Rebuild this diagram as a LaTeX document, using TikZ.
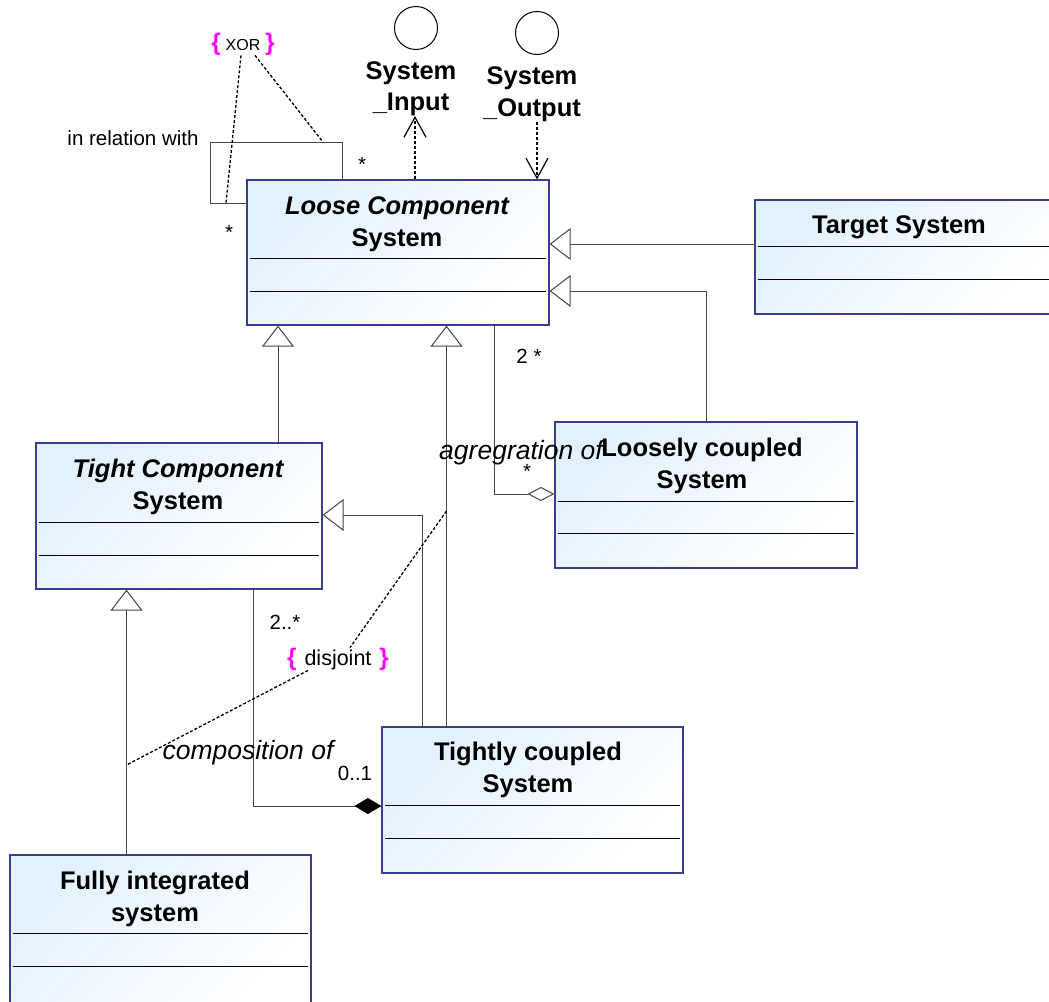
\documentclass[tikz,border=0pt]{standalone}
\usepackage{fontspec}
\setmainfont{Liberation Sans}
\usepackage{tikz}
\usetikzlibrary{arrows.meta}

\definecolor{class-border}{RGB}{60,60,140}
\definecolor{class-fill}{RGB}{226,241,253}
\definecolor{link-grey}{RGB}{70,70,70}
\definecolor{brace-pink}{RGB}{255,0,255}

\begin{document}
\begin{tikzpicture}[x=1pt, y=-1pt,
		class-box/.style={draw=class-border, line width=1.2pt, rectangle, top color=class-fill, bottom color=white, shading angle=45, inner sep=0pt},
		class-name/.style={font=\fontsize{25.5}{31.5}\selectfont\bfseries, align=center, inner sep=0pt},
		compartment/.style={line width=1pt, black},
		label-text/.style={font=\fontsize{20.5}{24}\selectfont, inner sep=0pt},
		role-text/.style={font=\fontsize{26.5}{30}\selectfont\itshape, inner sep=0pt},
		constraint-text/.style={inner sep=0pt},
		generalization/.style={draw=link-grey, line width=1pt, -{Triangle[open, length=21pt, width=32pt]}},
		aggregation/.style={draw=link-grey, line width=1pt, -{Diamond[open, length=27pt, width=14pt]}},
		composition/.style={draw=link-grey, line width=1pt, -{Diamond[length=27pt, width=16pt, color=black]}},
		association/.style={draw=link-grey, line width=1pt},
		dependency/.style={draw=black, line width=1.2pt, dash pattern=on 3pt off 2pt, -{Straight Barb[length=20pt, width=22pt]}},
		constraint/.style={draw=black, line width=1.3pt, dash pattern=on 3pt off 2pt}]
				\fill[white] (0, 0) rectangle (1049, 1001);
				\useasboundingbox (0, 0) rectangle (1049, 1001);

				% classes
				\node[class-box, minimum width=302pt, minimum height=145pt] at (398, 252.5) (loose-component-system) {};
				\node[class-name] at (397, 224) (loose-component-system-name) {{\itshape Loose Component}\\System};
				\draw[compartment] ([shift={(4, 79)}]loose-component-system.north west) -- ([shift={(-4, 79)}]loose-component-system.north east);
				\draw[compartment] ([shift={(4, 112)}]loose-component-system.north west) -- ([shift={(-4, 112)}]loose-component-system.north east);

				\node[class-box, minimum width=300pt, minimum height=114pt] at (905, 257) (target-system) {};
				\node[class-name] at (899, 227) (target-system-name) {Target System};
				\draw[compartment] ([shift={(4, 47)}]target-system.north west) -- ([shift={(-4, 47)}]target-system.north east);
				\draw[compartment] ([shift={(4, 80)}]target-system.north west) -- ([shift={(-4, 80)}]target-system.north east);

				\node[class-box, minimum width=302pt, minimum height=146pt] at (706, 495) (loosely-coupled-system) {};
				\node[class-name] at (702, 466) (loosely-coupled-system-name) {Loosely coupled\\System};
				\draw[compartment] ([shift={(4, 80)}]loosely-coupled-system.north west) -- ([shift={(-4, 80)}]loosely-coupled-system.north east);
				\draw[compartment] ([shift={(4, 112)}]loosely-coupled-system.north west) -- ([shift={(-4, 112)}]loosely-coupled-system.north east);

				\node[class-box, minimum width=286pt, minimum height=146pt] at (179, 516) (tight-component-system) {};
				\node[class-name] at (178, 487) (tight-component-system-name) {{\itshape Tight Component}\\System};
				\draw[compartment] ([shift={(4, 80)}]tight-component-system.north west) -- ([shift={(-4, 80)}]tight-component-system.north east);
				\draw[compartment] ([shift={(4, 113)}]tight-component-system.north west) -- ([shift={(-4, 113)}]tight-component-system.north east);

				\node[class-box, minimum width=301pt, minimum height=146pt] at (532.5, 800) (tightly-coupled-system) {};
				\node[class-name] at (528, 770) (tightly-coupled-system-name) {Tightly coupled\\System};
				\draw[compartment] ([shift={(4, 79)}]tightly-coupled-system.north west) -- ([shift={(-4, 79)}]tightly-coupled-system.north east);
				\draw[compartment] ([shift={(4, 112)}]tightly-coupled-system.north west) -- ([shift={(-4, 112)}]tightly-coupled-system.north east);

				\node[class-box, minimum width=301pt, minimum height=152pt] at (160.5, 931) (fully-integrated-system) {};
				\node[class-name] at (155, 899) (fully-integrated-system-name) {Fully integrated\\system};
				\draw[compartment] ([shift={(4, 79)}]fully-integrated-system.north west) -- ([shift={(-4, 79)}]fully-integrated-system.north east);
				\draw[compartment] ([shift={(4, 112)}]fully-integrated-system.north west) -- ([shift={(-4, 112)}]fully-integrated-system.north east);

				% interfaces
				\node[draw, circle, minimum size=43pt, inner sep=0pt, line width=1pt] at (416, 28) (system-input) {};
				\node[class-name] at (411, 88.5) (system-input-name) {System\\\_Input};
				\node[draw, circle, minimum size=43pt, inner sep=0pt, line width=1pt] at (537, 33) (system-output) {};
				\node[class-name] at (532, 94) (system-output-name) {System\\\_Output};

				% link points
				\coordinate (target-level) at (0, 244);
				\coordinate (loosely-level) at (0, 291);
				\coordinate (tight-link) at (278, 0);
				\coordinate (tightly-link) at (446.5, 0);
				\coordinate (tightly-tight-link) at (422, 515);
				\coordinate (fully-link) at (126.5, 0);
				\coordinate (aggregation-link) at (494, 494);
				\coordinate (composition-link) at (253, 806);
				\coordinate (input-link) at (415, 0);
				\coordinate (output-link) at (537, 0);
				\coordinate (loop-low) at (0, 203);
				\coordinate (loop-corner) at (210, 142);
				\coordinate (loop-right) at (342, 0);
				\coordinate (loop-low-point) at (226, 203);
				\coordinate (loop-top-point) at (323, 142);
				\coordinate (disjoint-top) at (446.5, 511);
				\coordinate (disjoint-bottom) at (126.5, 765);

				\draw[generalization] (target-system.west |- target-level) -- (loose-component-system.east |- target-level);
				\draw[generalization] (loosely-coupled-system.north) |- (loose-component-system.east |- loosely-level);
				\draw[generalization] (tight-component-system.north -| tight-link) -- (loose-component-system.south -| tight-link);
				\draw[generalization] (tightly-coupled-system.north -| tightly-link) -- (loose-component-system.south -| tightly-link);
				\draw[generalization] (tightly-coupled-system.north -| tightly-tight-link) |- (tight-component-system.east |- tightly-tight-link);
				\draw[generalization] (fully-integrated-system.north -| fully-link) -- (tight-component-system.south -| fully-link);
				\draw[aggregation] (loose-component-system.south -| aggregation-link) |- (loosely-coupled-system.west |- aggregation-link);
				\draw[composition] (tight-component-system.south -| composition-link) |- (tightly-coupled-system.west |- composition-link);
				\draw[association] (loose-component-system.west |- loop-low) -| (loop-corner) -| (loose-component-system.north -| loop-right);
				\draw[dependency] (loose-component-system.north -| input-link) -- (system-input-name.south -| input-link);
				\draw[dependency] (system-output-name.south -| output-link) -- (loose-component-system.north -| output-link);

				% constraints
				\node[constraint-text] at (243, 44) (xor-constraint) {\textcolor{brace-pink}{\fontsize{24}{24}\selectfont\bfseries\{}\hspace{5pt}\fontsize{16}{19}\selectfont XOR\hspace{5pt}\textcolor{brace-pink}{\fontsize{24}{24}\selectfont\bfseries\}}};
				\node[constraint-text] at (338, 659) (disjoint-constraint) {\textcolor{brace-pink}{\fontsize{24}{24}\selectfont\bfseries\{}\hspace{8pt}\fontsize{21.5}{24}\selectfont disjoint\hspace{8pt}\textcolor{brace-pink}{\fontsize{24}{24}\selectfont\bfseries\}}};
				\draw[constraint] ([xshift=-2pt]xor-constraint.south) -- (loop-low-point);
				\draw[constraint] ([xshift=12pt]xor-constraint.south) -- (loop-top-point);
				\draw[constraint] (disjoint-top) -- ([xshift=12pt]disjoint-constraint.north);
				\draw[constraint] ([xshift=-30pt]disjoint-constraint.south) -- (disjoint-bottom);

				% labels
				\node[label-text] at (133, 138) (in-relation-with) {in relation with};
				\node[label-text] at (362, 164) (loop-end-multiplicity) {*};
				\node[label-text] at (229, 232) (loop-start-multiplicity) {*};
				\node[label-text] at (529, 356) (aggregate-multiplicity) {2 *};
				\node[role-text] at (521, 453) (agregration-of) {agregration of};
				\node[label-text] at (527, 471) (part-multiplicity) {*};
				\node[label-text] at (285, 622) (composite-multiplicity) {2..*};
				\node[role-text] at (248, 753) (composition-of) {composition of};
				\node[label-text] at (355, 773) (whole-multiplicity) {0..1};
			\end{tikzpicture}
\end{document}
